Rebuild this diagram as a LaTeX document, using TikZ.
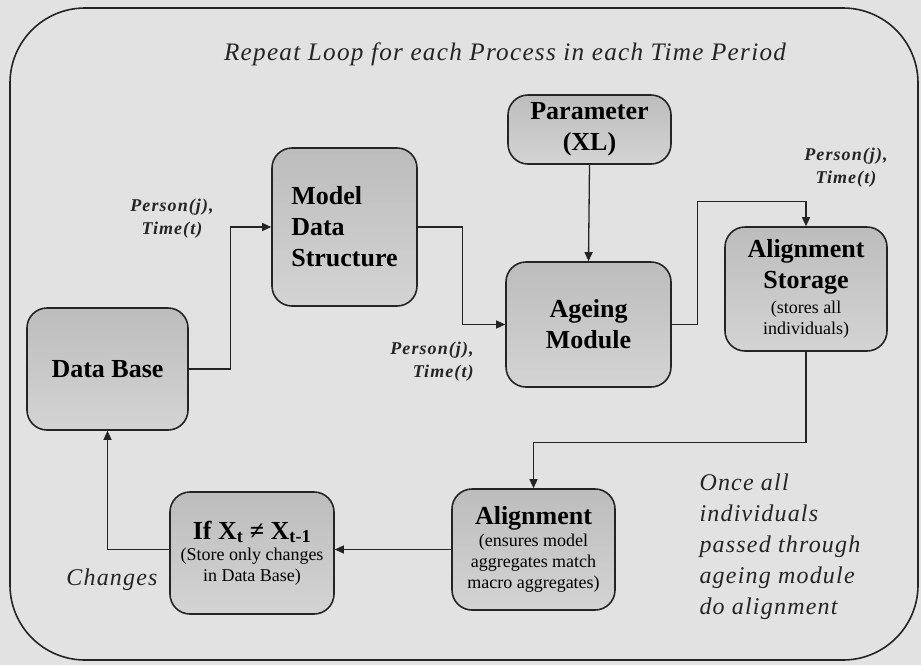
\documentclass[tikz,border=0pt]{standalone}
\usepackage{fontspec}
\setmainfont{Liberation Serif}
\newfontfamily\notefont[LetterSpace=5]{Liberation Serif}
\newfontfamily\lblfont[LetterSpace=6]{Liberation Serif}
\usetikzlibrary{arrows.meta}

% smaller explanatory lines inside the boxes
\newcommand\subtx{\fontsize{18}{21}\selectfont\mdseries}

\definecolor{paper}{gray}{0.885}
\definecolor{ink}{gray}{0.14}

\begin{document}
\begin{tikzpicture}[x=1pt,y=-1pt,
  loopframe/.style={draw=ink, line width=1.6pt, rounded corners=75pt},
  box/.style={draw=ink, line width=1.6pt, rounded corners=20pt,
    top color=black!26, bottom color=black!17, inner sep=0pt,
    align=center, font=\fontsize{26}{31}\selectfont\bfseries},
  conn/.style={draw=ink, line width=1.3pt},
  arr/.style={conn, -{Triangle[length=9pt,width=8pt]}},
  lbl/.style={font=\lblfont\bfseries\itshape\fontsize{18}{23}\selectfont,
    align=center, text=ink},
  note/.style={font=\notefont\itshape\fontsize{24}{31}\selectfont,
    align=left, text=ink},
]
% background and bounding box
\fill[paper] (0,0) rectangle (921,665);
\useasboundingbox (0,0) rectangle (921,665);

% outer loop frame
\node[loopframe, minimum width=908pt, minimum height=652pt] (loop) at (464,334) {};
\node[note, font=\notefont\itshape\fontsize{25.2}{28}\selectfont] (title) at (505,54)
  {Repeat Loop for each Process in each Time Period};

% process boxes
\node[box, minimum width=163pt, minimum height=69pt] (param) at (589.5,129.5)
  {Parameter\\(XL)};
\node[box, minimum width=145pt, minimum height=158pt, align=left] (model) at (344.5,227)
  {Model\\Data\\Structure};
\node[box, minimum width=161pt, minimum height=122pt] (db) at (107.5,369)
  {Data Base};
\node[box, minimum width=165pt, minimum height=125pt] (ageing) at (588.5,324.5)
  {Ageing\\Module};
\node[box, minimum width=162pt, minimum height=124pt] (store) at (806,289)
  {Alignment\\Storage\\[-6pt]\subtx (stores all\\[-10pt]\subtx individuals)};
\node[box, minimum width=164pt, minimum height=122pt] (ifbox) at (252,553)
  {If X\textsubscript{t} ≠ X\textsubscript{t-1}\\[-10pt]\subtx (Store only changes\\[-10pt]\subtx in Data Base)};
\node[box, minimum width=163pt, minimum height=121pt] (align) at (533.5,549.5)
  {Alignment\\[-9pt]\subtx (ensures model\\[-10pt]\subtx aggregates match\\[-10pt]\subtx macro aggregates)};

% connectors
\draw[arr] (db.east) -- ++(42,0) |- (model.west);
\draw[arr] (model.east) -- ++(45,0) |- (ageing.west);
\draw[arr] (param.south) -- (ageing.north);
\draw[arr] (ageing.east) -- ++(26,0) -- ++(0,-123) -| (store.north);
\draw[arr] (store.south) -- ++(0,91) -| (align.north);
\draw[arr] (align.west) -- (ifbox.east |- align.west);
\draw[arr] (ifbox.west |- align.west) -| (db.south);

% connector labels
\node[lbl] (l1) at (172,219) {Person(j),\\Time(t)};
\node[lbl, align=right] (l2) at (432,362) {Person(j),\\Time(t)};
\node[lbl] (l3) at (846,168) {Person(j),\\Time(t)};
\node[note] (chg) at (112,580) {Changes};
\node[note, anchor=north west] (once) at (696,470)
  {Once all\\individuals\\passed through\\ageing module\\do alignment};
\end{tikzpicture}
\end{document}
